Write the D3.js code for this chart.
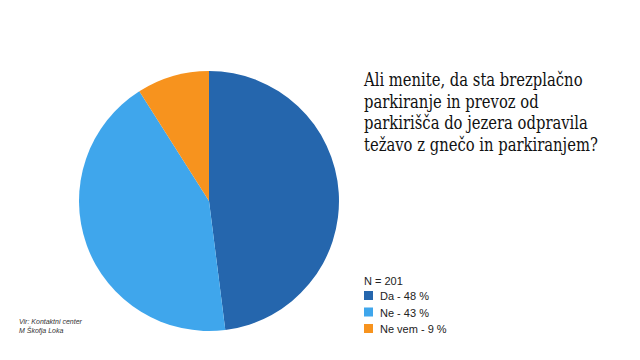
<!DOCTYPE html>
<html><head><meta charset="utf-8">
<script src="https://cdn.jsdelivr.net/npm/d3@7"></script>
<style>body{margin:0;background:#fff}svg{display:block}.ttl{font-family:"DejaVu Serif Condensed","DejaVu Serif",serif}</style>
</head><body>
<svg id="c" width="640" height="360"></svg>
<script>
const categories = ["Da", "Ne", "Ne vem"];
const values = [48, 43, 9];
const colors = ["#2566ad", "#3fa6ec", "#f7931e"];
const titleLines = ["Ali menite, da sta brezplačno", "parkiranje in prevoz od", "parkirišča do jezera odpravila", "težavo z gnečo in parkiranjem?"];
const nLabel = "N = 201";
const sourceLines = ["Vir: Kontaktni center", "M Škofja Loka"];

const svg = d3.select("#c");
const cx = 209, cy = 201, r = 130;
const pie = d3.pie().sort(null).value(d => d)(values);
const arc = d3.arc().innerRadius(0).outerRadius(r);
svg.append("g").attr("transform", `translate(${cx},${cy})`)
  .selectAll("path").data(pie).join("path")
  .attr("d", arc).attr("fill", (d, i) => colors[i]);

const tg = svg.append("g").attr("transform", "translate(364,0)");
const title = tg.append("text").attr("class", "ttl").attr("x", 0).attr("y", 86)
  .style("font-size", "18.5px").attr("fill", "#111");
title.selectAll("tspan").data(titleLines).join("tspan")
  .attr("x", 0).attr("dy", (d, i) => i ? 21.7 : 0).text(d => d);
const widest = d3.max(title.selectAll("tspan").nodes(), n => n.getComputedTextLength());
if (widest > 234) tg.attr("transform", `translate(364,0) scale(${234 / widest},1)`);

svg.append("text").attr("x", 364).attr("y", 285)
  .attr("font-family", "'Liberation Sans', Arial, sans-serif").attr("font-size", 11).attr("fill", "#222")
  .text(nLabel);
const leg = svg.append("g").selectAll("g").data(categories).join("g")
  .attr("transform", (d, i) => `translate(364,${291 + i * 16.5})`);
leg.append("rect").attr("width", 9).attr("height", 9).attr("fill", (d, i) => colors[i]);
leg.append("text").attr("x", 16).attr("y", 9)
  .attr("font-family", "'Liberation Sans', Arial, sans-serif").attr("font-size", 11).attr("fill", "#222")
  .text((d, i) => `${d} - ${values[i]} %`);

svg.append("text").attr("font-family", "'Liberation Sans', Arial, sans-serif")
  .attr("font-size", 7).attr("font-style", "italic").attr("fill", "#333")
  .selectAll("tspan").data(sourceLines).join("tspan")
  .attr("x", 19).attr("y", (d, i) => 324 + i * 9).text(d => d);
</script>
</body></html>
